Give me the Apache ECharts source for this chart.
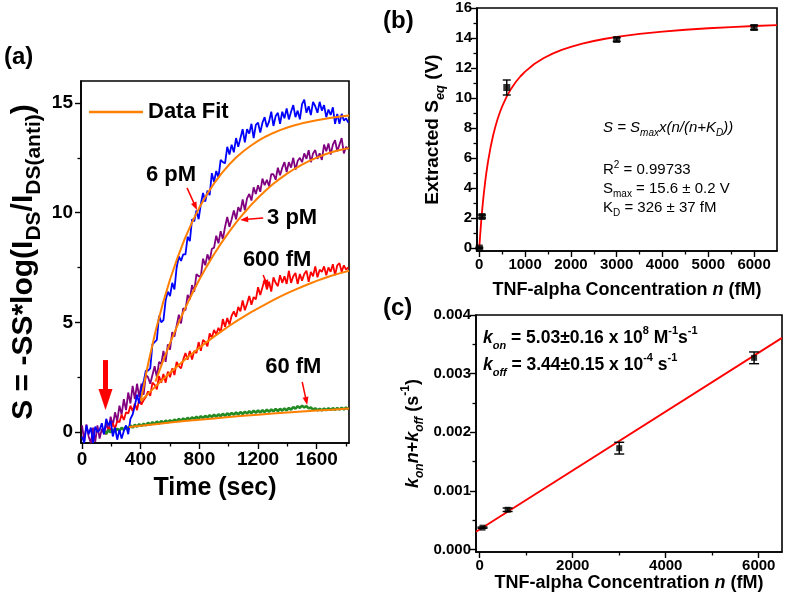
<!DOCTYPE html>
<html><head><meta charset="utf-8">
<script src="https://cdn.jsdelivr.net/npm/echarts@6.0.0/dist/echarts.min.js"></script>
<style>html,body{margin:0;padding:0;background:#fff}#c{width:787px;height:596px}</style>
</head><body><div id="c"></div>
<script>
// ---------- DATA ----------
// Panel (a): time axis (s) shared by the measured traces
const timeSec = [0,15,30,45,60,75,90,105,120,135,150,165,180,195,210,225,240,255,270,285,300,315,330,345,360,375,390,405,420,435,450,465,480,495,510,525,540,555,570,585,600,615,630,645,660,675,690,705,720,735,750,765,780,795,810,825,840,855,870,885,900,915,930,945,960,975,990,1005,1020,1035,1050,1065,1080,1095,1110,1125,1140,1155,1170,1185,1200,1215,1230,1245,1260,1275,1290,1305,1320,1335,1350,1365,1380,1395,1410,1425,1440,1455,1470,1485,1500,1515,1530,1545,1560,1575,1590,1605,1620,1635,1650,1665,1680,1695,1710,1725,1740,1755,1770,1785,1800,1815];
const s6pM = [-0.2,-0.5,0.3,-0.1,0.2,-0.5,0.25,0.0,0.1,0.4,
-0.1,0.6,0.3,0.5,-0.2,0.2,-0.35,0.1,-0.3,0.05,
0.3,-0.1,0.6,0.8,1.2,1.7,1.3,2.0,2.3,2.8,
2.8,2.9,4.0,4.1,4.2,5.3,5.0,5.1,6.0,6.4,
6.2,6.8,6.5,7.5,8.0,7.8,8.1,8.1,8.9,8.7,
9.7,9.6,10.1,9.7,10.4,10.9,10.5,11.0,10.8,11.8,
11.4,11.9,11.6,12.4,12.3,12.25,13.0,12.65,13.1,12.75,
13.4,13.0,13.4,13.8,13.2,13.8,13.6,14.05,13.4,14.0,
14.1,13.65,14.1,14.35,13.9,14.15,14.6,13.95,14.4,14.55,
14.05,14.6,14.3,14.75,14.25,14.6,14.9,14.35,14.65,14.25,
14.95,15.15,14.55,14.85,14.45,15.05,14.85,14.55,15.05,14.65,
14.9,14.35,14.7,14.45,14.8,14.05,14.5,14.05,14.5,14.2,
14.3,14.1];
const s3pM = [0.3,-0.4,0.35,-0.2,-0.5,0.2,-0.45,0.3,-0.3,0.15,
-0.1,0.4,0.05,0.7,0.3,0.9,0.5,1.2,0.8,1.5,
1.0,1.8,1.3,2.1,1.5,2.2,1.6,2.2,1.7,2.6,
2.5,2.2,2.6,3.0,2.5,3.2,3.1,3.7,3.2,4.0,
3.75,4.55,4.35,4.85,5.35,4.95,5.65,5.55,6.25,6.05,
6.7,6.4,7.2,7.1,7.1,7.9,7.6,8.1,7.8,8.35,
8.4,8.95,8.6,9.15,8.8,9.35,9.8,9.35,9.7,10.1,
9.7,10.25,10.05,10.6,10.1,10.65,10.85,10.55,11.15,10.85,
11.25,10.95,11.55,11.25,11.5,11.2,11.75,11.75,11.5,12.05,
11.7,12.05,12.3,11.85,12.3,12.05,12.5,11.95,12.35,12.5,
12.3,12.7,12.45,12.85,12.3,12.7,12.85,12.45,12.7,12.4,
13.1,12.8,13.15,12.65,13.1,13.3,12.8,13.1,13.4,12.7,
13.0,12.9];
const s600fM = [null,null,null,null,null,null,null,null,null,null,
0.1,-0.1,0.2,0.1,0.4,0.15,0.5,0.45,0.8,0.55,
0.9,0.85,1.2,0.95,1.3,1.0,1.5,1.25,1.45,1.6,
1.85,1.65,2.25,2.15,1.95,2.55,2.25,2.65,2.25,2.75,
2.5,2.9,2.6,3.2,3.0,2.9,3.3,3.6,3.3,3.7,
3.3,3.7,3.6,4.1,3.7,4.2,4.1,3.9,4.5,4.3,
4.65,4.45,4.75,4.55,5.15,4.8,5.2,4.9,5.3,5.5,
5.25,5.7,5.5,6.0,5.55,5.85,6.2,5.8,6.15,6.05,
6.6,6.25,6.6,6.95,6.5,6.85,6.4,7.05,6.8,6.65,
7.15,6.8,7.1,6.75,7.35,6.8,7.1,7.25,6.75,7.2,
6.9,7.2,7.35,6.85,7.3,7.1,7.55,7.05,7.4,7.3,
7.55,7.15,7.5,7.3,7.65,7.15,7.6,7.7,7.3,7.6,
7.4,7.5];
const s60fM = [null,null,null,null,null,null,null,null,null,null,
0.05,-0.08,0.1,-0.02,0.12,0.02,0.15,0.06,0.2,0.1,
0.24,0.15,0.3,0.2,0.33,0.24,0.36,0.27,0.38,0.3,
0.42,0.33,0.45,0.36,0.48,0.38,0.5,0.41,0.52,0.44,
0.54,0.46,0.57,0.49,0.6,0.51,0.62,0.54,0.65,0.56,
0.67,0.59,0.7,0.61,0.72,0.63,0.74,0.66,0.77,0.68,
0.79,0.7,0.81,0.72,0.83,0.74,0.85,0.77,0.87,0.79,
0.89,0.8,0.91,0.82,0.93,0.84,0.95,0.86,0.97,0.88,
0.98,0.89,1.0,0.9,1.02,0.92,1.03,0.94,1.05,0.95,
1.06,0.97,1.08,0.98,1.1,1.02,1.14,1.06,1.18,1.1,
1.2,1.12,1.18,1.08,1.12,1.02,1.08,0.99,1.06,0.98,
1.07,0.99,1.08,1.0,1.09,1.01,1.1,1.02,1.11,1.03,
1.12,1.04];
// Panel (a): fitted curves
const fitTime6pM = [400,450,500,550,600,650,700,750,800,850,900,950,1000,1050,1100,1150,1200,1250,1300,1350,1400,1450,1500,1550,1600,1650,1700,1750,1820];
const fit6pM     = [1.42,3.09,4.56,5.84,6.95,7.93,8.80,9.56,10.23,10.82,11.33,11.78,12.17,12.51,12.80,13.05,13.27,13.46,13.62,13.76,13.88,13.98,14.07,14.14,14.21,14.27,14.32,14.37,14.43];
const fitTime3pM = [500,550,600,650,700,750,800,850,900,950,1000,1050,1100,1150,1200,1250,1300,1350,1400,1450,1500,1550,1600,1650,1700,1750,1820];
const fit3pM     = [2.3,3.2,4.05,4.85,5.6,6.3,6.95,7.55,8.1,8.62,9.1,9.54,9.95,10.33,10.68,11.0,11.29,11.55,11.79,12.0,12.19,12.36,12.51,12.64,12.75,12.84,12.94];
const fitTime600fM = [400,450,500,550,600,650,700,750,800,850,900,950,1000,1050,1100,1150,1200,1250,1300,1350,1400,1450,1500,1550,1600,1650,1700,1750,1820];
const fit600fM     = [1.4,1.74,2.07,2.39,2.7,3.0,3.29,3.57,3.84,4.1,4.35,4.59,4.82,5.04,5.25,5.45,5.64,5.82,6.0,6.17,6.33,6.48,6.62,6.76,6.89,7.01,7.12,7.22,7.35];
const fitTime60fM = [320,400,500,600,700,800,900,1000,1100,1200,1300,1400,1500,1600,1700,1820];
const fit60fM     = [0.23,0.29,0.36,0.43,0.5,0.56,0.62,0.68,0.74,0.79,0.84,0.89,0.94,0.98,1.02,1.07];
const aXTicks = [0,400,800,1200,1600], aXMinor = [200,600,1000,1400,1800];
const aYTicks = [0,5,10,15], aYMinor = [2.5,7.5,12.5];
// annotations (a) in data coords
const aLabels = [['6 pM',607,11.72],['3 pM',1432,9.76],['600 fM',1330,7.84],['60 fM',1440,2.96]];
const aArrows = [[[716,11.13],[784,10.12]],[[1235,9.76],[1078,9.67]],[[1235,7.16],[1269,6.57]],[[1501,2.28],[1535,1.23]]];
const bigArrow = [[160,3.28],[160,1.0]];

// Panel (b)
const nB = [0,60,600,3000,6000];
const seqB = [0,2.1,10.7,13.9,14.7];
const errB = [0.05,0.1,0.5,0.12,0.15];
const fitNB = [0,10,20,30,40,50,60,80,100,125,150,175,200,250,300,350,400,450,500,600,700,800,900,1000,1200,1400,1600,1800,2000,2250,2500,2750,3000,3500,4000,4500,5000,5500,6000,6500];
const fitSB = [0,0.46,0.9,1.31,1.71,2.07,2.43,3.07,3.66,4.32,4.92,5.45,5.93,6.77,7.48,8.08,8.6,9.05,9.44,10.11,10.64,11.08,11.45,11.76,12.27,12.65,12.96,13.21,13.41,13.63,13.8,13.95,14.07,14.27,14.42,14.55,14.65,14.73,14.8,14.86];
const bXTicks = [0,1000,2000,3000,4000,5000,6000], bXMinor = [500,1500,2500,3500,4500,5500];
const bYTicks = [0,2,4,6,8,10,12,14,16], bYMinor = [1,3,5,7,9,11,13,15];

// Panel (c)
const nC = [60,600,3000,5900];
const kC = [0.000375,0.00068,0.00173,0.00327];
const errC = [0.00001,0.00003,0.0001,0.0001];
const fitNC = [-80,6500];
const fitKC = [0.000304,0.00361];
const cXTicks = [0,2000,4000,6000], cXMinor = [1000,3000,5000];
const cYTicks = [0,0.001,0.002,0.003,0.004], cYMinor = [0.0005,0.0015,0.0025,0.0035];

// ---------- CHART ----------
const F = 'Liberation Sans, Arial, Helvetica, sans-serif';
const chart = echarts.init(document.getElementById('c'), null, {renderer:'canvas'});
function pairs(xs, ys){ const o=[]; for(let i=0;i<xs.length;i++){ if(ys[i]!==null&&ys[i]!==undefined) o.push([xs[i],ys[i]]);} return o; }
function triples(xs, ys, es){ return xs.map((x,i)=>[x,ys[i],es[i]]); }

function majorAxis(grid, min, max, ticks, fs, margin, extra){
  return Object.assign({
    type:'value', gridIndex:grid, min:min, max:max, scale:true,
    axisLine:{show:true, onZero:false, lineStyle:{color:'#000', width:1.6}},
    axisTick:{show:true, customValues:ticks, length:6, lineStyle:{color:'#000', width:1.4}},
    axisLabel:{show:true, customValues:ticks, fontSize:fs, fontWeight:'bold', fontFamily:F, color:'#000', margin:margin, formatter:v=>String(v)},
    splitLine:{show:false}, minorTick:{show:false}
  }, extra||{});
}
function minorAxis(grid, min, max, ticks, pos){
  return {type:'value', gridIndex:grid, min:min, max:max, position:pos, scale:true,
    axisLine:{show:false, onZero:false},
    axisTick:{show:true, customValues:ticks, length:3.5, lineStyle:{color:'#000', width:1.3}},
    axisLabel:{show:false}, splitLine:{show:false}};
}
const richA = {
  m:{fontSize:30, fontWeight:'bold', fontFamily:F, color:'#000', lineHeight:42, verticalAlign:'middle'},
  s:{fontSize:21, fontWeight:'bold', fontFamily:F, color:'#000', lineHeight:42, verticalAlign:'bottom'}
};
const richBC = {
  m:{fontSize:18, fontWeight:'bold', fontFamily:F, color:'#000', lineHeight:26, verticalAlign:'middle'},
  i:{fontSize:18, fontWeight:'bold', fontStyle:'italic', fontFamily:F, color:'#000', lineHeight:26, verticalAlign:'middle'},
  s:{fontSize:12, fontWeight:'bold', fontStyle:'italic', fontFamily:F, color:'#000', lineHeight:26, verticalAlign:'bottom'},
  p:{fontSize:12, fontWeight:'bold', fontFamily:F, color:'#000', lineHeight:26, verticalAlign:'top'}
};
const richBY = {
  m:{fontSize:19, fontWeight:'bold', fontFamily:F, color:'#000', lineHeight:28, verticalAlign:'middle'},
  s:{fontSize:13, fontWeight:'bold', fontStyle:'italic', fontFamily:F, color:'#000', lineHeight:28, verticalAlign:'bottom'}
};

const gridBox = {show:true, borderColor:'#000', borderWidth:1.6, backgroundColor:'transparent', containLabel:false, outerBoundsMode:'none'};

const option = {
  animation:false,
  backgroundColor:'#fff',
  textStyle:{fontFamily:F},
  grid:[
    Object.assign({left:81, top:81, width:268, height:362}, gridBox),
    Object.assign({left:477, top:8, width:300, height:243}, gridBox),
    Object.assign({left:476, top:315, width:306, height:237}, gridBox)
  ],
  legend:{data:['Data Fit'], left:84, top:96, icon:'rect', itemWidth:54, itemHeight:2.5, selectedMode:false,
    textStyle:{fontSize:22, fontWeight:'bold', fontFamily:F, color:'#000'}},
  xAxis:[
    majorAxis(0,-7,1820,aXTicks,19,7,{name:'Time (sec)', nameLocation:'middle', nameGap:33,
      nameTextStyle:{fontSize:25, fontWeight:'bold', fontFamily:F, color:'#000'}}),
    minorAxis(0,-7,1820,aXMinor,'bottom'),
    majorAxis(1,-50,6500,bXTicks,15,6,{name:'{m|TNF-alpha Concentration }{i|n}{m| (fM)}', nameLocation:'middle', nameGap:26,
      nameTextStyle:{rich:richBC}}),
    minorAxis(1,-50,6500,bXMinor,'bottom'),
    majorAxis(2,-80,6500,cXTicks,15,6,{name:'{m|TNF-alpha Concentration }{i|n}{m| (fM)}', nameLocation:'middle', nameGap:18,
      nameTextStyle:{rich:richBC}}),
    minorAxis(2,-80,6500,cXMinor,'bottom')
  ],
  yAxis:[
    majorAxis(0,-0.5,16,aYTicks,19,8,{name:'{m|S = -SS*log(I}{s|DS}{m|/I}{s|DS(anti)}{m|)}', nameLocation:'middle', nameRotate:90, nameGap:36,
      nameTextStyle:{rich:richA}}),
    minorAxis(0,-0.5,16,aYMinor,'left'),
    majorAxis(1,-0.2,16,bYTicks,15,5,{name:'{m|Extracted S}{s|eq}{m| (V)}', nameLocation:'middle', nameRotate:90, nameGap:30,
      nameTextStyle:{rich:richBY}}),
    minorAxis(1,-0.2,16,bYMinor,'left'),
    majorAxis(2,-0.00004,0.004,cYTicks,15,5,{name:'{i|k}{s|on}{i|n}{m|+}{i|k}{s|off}{m| (s}{p|-1}{m|)}', nameLocation:'middle', nameRotate:90, nameGap:50,
      nameTextStyle:{rich:richBC},
      axisLabel:{show:true, customValues:cYTicks, fontSize:15, fontWeight:'bold', fontFamily:F, color:'#000', margin:5, formatter:v=>Number(v).toFixed(3)}}),
    minorAxis(2,-0.00004,0.004,cYMinor,'left')
  ],
  series:[
    {type:'line', name:'3 pM', xAxisIndex:0, yAxisIndex:0, data:pairs(timeSec,s3pM), showSymbol:false, lineStyle:{color:'#800080', width:1.8}, itemStyle:{color:'#800080'}, z:2},
    {type:'line', name:'600 fM', xAxisIndex:0, yAxisIndex:0, data:pairs(timeSec,s600fM), showSymbol:false, lineStyle:{color:'#ff0000', width:1.8}, itemStyle:{color:'#ff0000'}, z:2},
    {type:'line', name:'60 fM', xAxisIndex:0, yAxisIndex:0, data:pairs(timeSec,s60fM), showSymbol:false, lineStyle:{color:'#238b23', width:2.6}, itemStyle:{color:'#238b23'}, z:2},
    {type:'line', name:'6 pM', xAxisIndex:0, yAxisIndex:0, data:pairs(timeSec,s6pM), showSymbol:false, lineStyle:{color:'#0000ff', width:1.8}, itemStyle:{color:'#0000ff'}, z:3},
    {type:'line', name:'Data Fit', xAxisIndex:0, yAxisIndex:0, data:pairs(fitTime6pM,fit6pM), showSymbol:false, lineStyle:{color:'#ff7f00', width:2}, itemStyle:{color:'#ff7f00'}, z:4},
    {type:'line', name:'Data Fit', xAxisIndex:0, yAxisIndex:0, data:pairs(fitTime3pM,fit3pM), showSymbol:false, lineStyle:{color:'#ff7f00', width:2}, itemStyle:{color:'#ff7f00'}, z:4},
    {type:'line', name:'Data Fit', xAxisIndex:0, yAxisIndex:0, data:pairs(fitTime600fM,fit600fM), showSymbol:false, lineStyle:{color:'#ff7f00', width:2}, itemStyle:{color:'#ff7f00'}, z:4},
    {type:'line', name:'Data Fit', xAxisIndex:0, yAxisIndex:0, data:pairs(fitTime60fM,fit60fM), showSymbol:false, lineStyle:{color:'#ff7f00', width:2}, itemStyle:{color:'#ff7f00'}, z:4},
    // (b)
    {type:'line', name:'bfit', xAxisIndex:2, yAxisIndex:2, data:pairs(fitNB,fitSB), showSymbol:false, lineStyle:{color:'#ff0000', width:1.8}, z:2},
    {type:'scatter', name:'bpts', xAxisIndex:2, yAxisIndex:2, data:pairs(nB,seqB), symbol:'rect', symbolSize:7, itemStyle:{color:'#000'}, z:5},
    {type:'custom', name:'berr', xAxisIndex:2, yAxisIndex:2, data:triples(nB,seqB,errB), z:5,
      renderItem:function(params, api){ return errBar(api, 4); }},
    // (c)
    {type:'line', name:'cfit', xAxisIndex:4, yAxisIndex:4, data:pairs(fitNC,fitKC), showSymbol:false, lineStyle:{color:'#ff0000', width:1.8}, z:2},
    {type:'scatter', name:'cpts', xAxisIndex:4, yAxisIndex:4, data:pairs(nC,kC), symbol:'rect', symbolSize:6, itemStyle:{color:'#000'}, z:5},
    {type:'custom', name:'cerr', xAxisIndex:4, yAxisIndex:4, data:triples(nC,kC,errC), z:5,
      renderItem:function(params, api){ return errBar(api, 5); }}
  ]
};
function errBar(api, hw){
  const x=api.value(0), y=api.value(1), e=api.value(2);
  const t=api.coord([x,y+e]), b=api.coord([x,y-e]);
  const st={stroke:'#000', lineWidth:1.4};
  return {type:'group', children:[
    {type:'line', shape:{x1:t[0],y1:t[1],x2:b[0],y2:b[1]}, style:st},
    {type:'line', shape:{x1:t[0]-hw,y1:t[1],x2:t[0]+hw,y2:t[1]}, style:st},
    {type:'line', shape:{x1:b[0]-hw,y1:b[1],x2:b[0]+hw,y2:b[1]}, style:st}
  ]};
}
chart.setOption(option);

// ---------- ANNOTATIONS ----------
const G = [];
const toPx = p => chart.convertToPixel({seriesIndex:3}, p);
function arrow(p0, p1, color, lw, hl, hwid){
  const dx=p1[0]-p0[0], dy=p1[1]-p0[1], L=Math.hypot(dx,dy), ux=dx/L, uy=dy/L;
  const bx=p1[0]-ux*hl, by=p1[1]-uy*hl, nx=-uy, ny=ux;
  G.push({type:'line', z:100, shape:{x1:p0[0],y1:p0[1],x2:bx+ux*1,y2:by+uy*1}, style:{stroke:color, lineWidth:lw}});
  G.push({type:'polygon', z:100, shape:{points:[[p1[0],p1[1]],[bx+nx*hwid/2,by+ny*hwid/2],[bx-nx*hwid/2,by-ny*hwid/2]]}, style:{fill:color}});
}
aArrows.forEach(a=>arrow(toPx(a[0]), toPx(a[1]), '#ff0000', 1.5, 8, 6));
arrow(toPx(bigArrow[0]), toPx(bigArrow[1]), '#ff0000', 5, 21, 14);
aLabels.forEach(l=>{ const p=toPx([l[1],l[2]]);
  G.push({type:'text', z:100, x:p[0], y:p[1], style:{text:l[0], font:'bold 22px '+F, fill:'#000', align:'center', verticalAlign:'middle', textAlign:'center', textVerticalAlign:'middle'}});
});
function txt(x, y, text, rich, font){
  G.push({type:'text', z:100, x:x, y:y, style:{text:text, rich:rich, font:font, fill:'#000', align:'left', verticalAlign:'middle', textAlign:'left', textVerticalAlign:'middle'}});
}
const pl = 'bold 24px '+F;
txt(4, 57, '(a)', null, pl);
txt(383, 21, '(b)', null, pl);
txt(383, 308, '(c)', null, pl);
const richN = {
  m:{fontSize:15, fontFamily:F, lineHeight:20, verticalAlign:'middle'},
  i:{fontSize:15, fontStyle:'italic', fontFamily:F, lineHeight:20, verticalAlign:'middle'},
  is:{fontSize:10, fontStyle:'italic', fontFamily:F, lineHeight:20, verticalAlign:'bottom'},
  s:{fontSize:10, fontFamily:F, lineHeight:20, verticalAlign:'bottom'},
  p:{fontSize:10, fontFamily:F, lineHeight:20, verticalAlign:'top'}
};
txt(603, 128, '{i|S = S}{is|max}{i|x(n/(n+K}{is|D}{i|))}', richN, '15px '+F);
txt(603, 170, '{m|R}{p|2}{m| = 0.99733}', richN, '15px '+F);
txt(603, 189, '{m|S}{s|max}{m| = 15.6 ± 0.2 V}', richN, '15px '+F);
txt(603, 208, '{m|K}{s|D}{m| = 326 ± 37 fM}', richN, '15px '+F);
const richK = {
  m:{fontSize:17.5, fontWeight:'bold', fontFamily:F, lineHeight:26, verticalAlign:'middle'},
  i:{fontSize:17.5, fontWeight:'bold', fontStyle:'italic', fontFamily:F, lineHeight:26, verticalAlign:'middle'},
  s:{fontSize:11, fontWeight:'bold', fontStyle:'italic', fontFamily:F, lineHeight:26, verticalAlign:'bottom'},
  p:{fontSize:11, fontWeight:'bold', fontFamily:F, lineHeight:26, verticalAlign:'top'}
};
txt(483, 338, '{i|k}{s|on}{m| = 5.03±0.16 x 10}{p|8}{m| M}{p|-1}{m|s}{p|-1}', richK, 'bold 17.5px '+F);
txt(483, 365, '{i|k}{s|off}{m| = 3.44±0.15 x 10}{p|-4}{m| s}{p|-1}', richK, 'bold 17.5px '+F);
chart.setOption({graphic:G});
</script>
</body></html>
